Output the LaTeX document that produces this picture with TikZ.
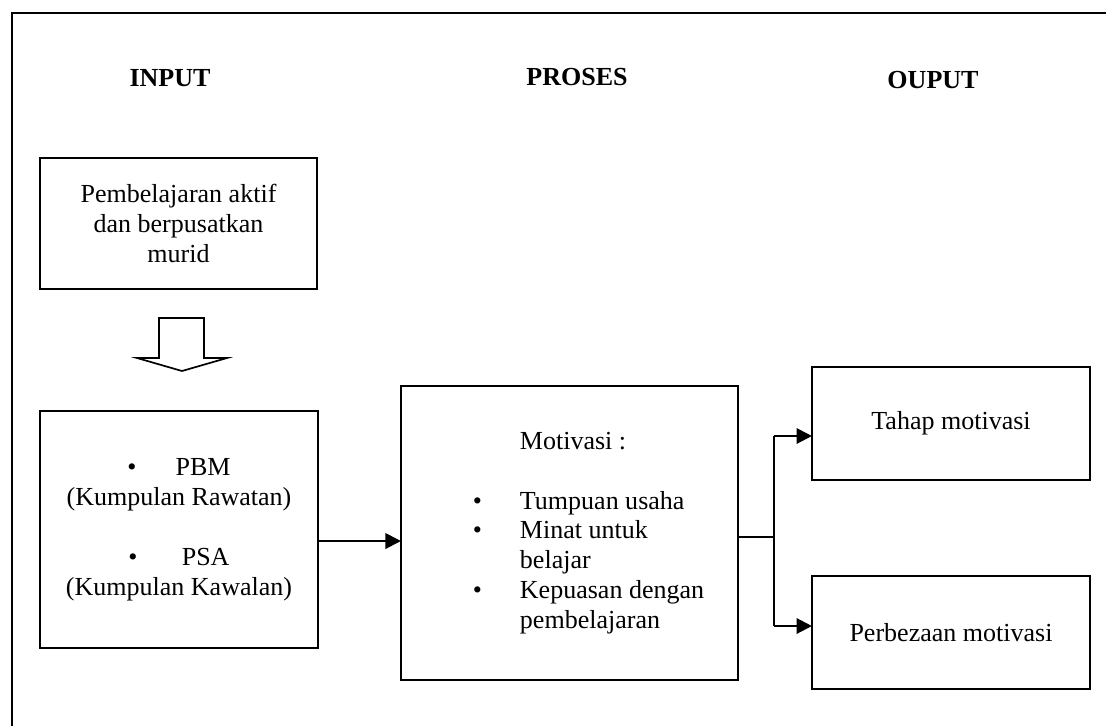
\documentclass[tikz,border=0pt]{standalone}
\usepackage{fontspec}
\setmainfont{Liberation Serif}
\usetikzlibrary{arrows.meta}
\tikzset{box/.style={draw,line width=1.5pt,inner sep=0pt,outer sep=0pt,align=center}}
\tikzset{hd/.style={font=\fontsize{18.5}{21.3}\selectfont\bfseries}}
\tikzset{ln/.style={line width=1.5pt}}
\tikzset{ar/.style={line width=1.5pt,-{Triangle[length=11pt,width=11pt]}}}

\begin{document}
\begin{tikzpicture}[x=0.025cm,y=-0.025cm,font=\fontsize{18.5}{21.3}\selectfont]
  \useasboundingbox (0,0) rectangle (1106,725);
  % outer frame (cut off at right and bottom)
  \draw[line width=1.7pt] (1112,13) -- (12,13) -- (12,731);

  % headings
  \node[hd,anchor=base] (inp) at (170,86) {INPUT};
  \node[hd,anchor=base] (pro) at (577,85) {PROSES};
  \node[hd,anchor=base] (out) at (933,88) {OUPUT};

  % input
  \node[box,minimum width=6.925cm,minimum height=3.275cm] (pa) at (178.5,223.5)
    {Pembelajaran aktif\\dan berpusatkan\\murid};
  \draw[line width=1.2pt] (159,318) -- (204,318) -- (204,358) -- (227,358)
    -- (182,371) -- (137,358) -- (159,358) -- cycle;
  \node[box,minimum width=6.95cm,minimum height=5.925cm] (ps) at (179,529.5)
    {\textbullet\hspace{1.5em}PBM\hspace{1.4em}\\(Kumpulan Rawatan)\\[21.3pt]
     \textbullet\hspace{1.7em}PSA\hspace{1.4em}\\(Kumpulan Kawalan)};

  % proses
  \node[box,minimum width=8.425cm,minimum height=7.35cm] (mo) at (569.5,533)
    {\begin{tabular}{@{\hspace{0.95cm}}l@{\hspace{0.95cm}}l@{}}
      & Motivasi :\\
      & \\
      \textbullet & Tumpuan usaha\\
      \textbullet & Minat untuk\\
      & belajar\\
      \textbullet & Kepuasan dengan\\
      & pembelajaran
    \end{tabular}};

  % output
  \node[box,minimum width=6.95cm,minimum height=2.825cm] (tm) at (951,423.5) {Tahap motivasi};
  \node[box,minimum width=6.95cm,minimum height=2.825cm] (pm) at (951,632.5) {Perbezaan motivasi};

  % connectors
  \coordinate (y0) at (0,541);
  \coordinate (j) at (774,537);
  \coordinate (j1) at (774,436);
  \coordinate (j2) at (774,626);
  \draw[ar] (ps.east |- y0) -- (mo.west |- y0);
  \draw[ln] (mo.east |- j) -- (j);
  \draw[ln] (j1) -- (j2);
  \draw[ar] (j1) -- (tm.west |- j1);
  \draw[ar] (j2) -- (pm.west |- j2);
\end{tikzpicture}
\end{document}
